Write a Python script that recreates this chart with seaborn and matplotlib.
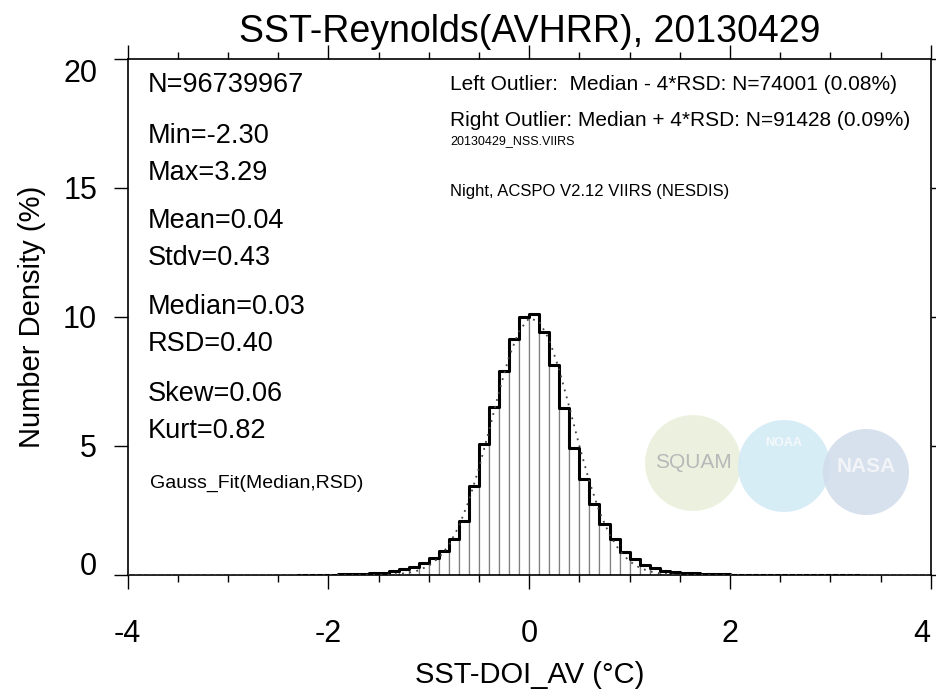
import numpy as np
import pandas as pd
import matplotlib
matplotlib.use("Agg")
import matplotlib.pyplot as plt
from matplotlib.patches import Circle
from matplotlib.ticker import MultipleLocator
import seaborn as sns

# ---------------- data ----------------
title = "SST-Reynolds(AVHRR), 20130429"
x_label = "SST-DOI_AV (°C)"
y_label = "Number Density (%)"

bin_start, bin_width = -2.3, 0.1
# number density (%) per 0.1 bin, from -2.3 to 3.3
density = [
    0.003, 0.005, 0.008, 0.012, 0.02, 0.03, 0.045, 0.065,
    0.09, 0.14, 0.22, 0.32, 0.45, 0.67, 0.94, 1.40, 2.10, 3.46, 5.07, 6.52, 7.91, 9.15, 9.99,
    10.10, 9.43, 8.14, 6.48, 4.93, 3.72, 2.74, 1.97, 1.38, 0.90, 0.61, 0.39, 0.26, 0.17, 0.12, 0.08,
    0.06, 0.045, 0.033, 0.024, 0.018, 0.013, 0.01, 0.008, 0.006, 0.005, 0.004, 0.003, 0.002, 0.002,
    0.001, 0.001, 0.001,
]

# Gauss fit (Median, RSD) curve, read at 0.1 steps
fit_x = [-4.0, -2.0, -1.9, -1.8, -1.7, -1.6, -1.5, -1.4, -1.3, -1.2, -1.1, -1.0, -0.9, -0.8, -0.7,
         -0.6, -0.5, -0.4, -0.3, -0.2, -0.1, 0.0, 0.1, 0.2, 0.3, 0.4, 0.5, 0.6, 0.7, 0.8, 0.9,
         1.0, 1.1, 1.2, 1.3, 1.4, 1.5, 1.6, 1.7, 1.8, 1.9, 2.0, 4.0]
fit_y = [0.0, 0.0, 0.0, 0.0, 0.001, 0.003, 0.007, 0.017, 0.04, 0.088, 0.18, 0.36, 0.67, 1.16, 1.89,
         2.89, 4.15, 5.60, 7.10, 8.46, 9.46, 9.95, 9.82, 9.11, 7.94, 6.50, 5.00, 3.61, 2.45, 1.57, 0.94,
         0.53, 0.28, 0.14, 0.065, 0.028, 0.012, 0.005, 0.002, 0.001, 0.0, 0.0, 0.0]

stats_lines = [("N=96739967", 85), ("Min=-2.30", 136), ("Max=3.29", 173),
               ("Mean=0.04", 221), ("Stdv=0.43", 258), ("Median=0.03", 307),
               ("RSD=0.40", 344), ("Skew=0.06", 394), ("Kurt=0.82", 431)]
fit_note = "Gauss_Fit(Median,RSD)"
info_lines = ["Left Outlier:  Median - 4*RSD: N=74001 (0.08%)",
              "Right Outlier: Median + 4*RSD: N=91428 (0.09%)",
              "20130429_NSS.VIIRS",
              "Night, ACSPO V2.12 VIIRS (NESDIS)"]

x_ticks = [-4, -2, 0, 2, 4]
y_ticks = [0, 5, 10, 15, 20]

# ---------------- figure ----------------
sns.set_style("white")
plt.rcParams["font.family"] = ["Liberation Sans", "DejaVu Sans"]
plt.rcParams["axes.unicode_minus"] = False
for k in ["text.color", "axes.labelcolor", "xtick.color", "ytick.color"]:
    plt.rcParams[k] = "black"

W, H = 937, 692
fig = plt.figure(figsize=(W / 100, H / 100), dpi=100)
L, R, B, T = 127.7, 930.7, 575.0, 58.7
ax = fig.add_axes([L / W, 1 - B / H, (R - L) / W, (B - T) / H])

edges = [round(bin_start + bin_width * i, 2) for i in range(len(density) + 1)]
centers = [round(e + bin_width / 2, 3) for e in edges[:-1]]
df = pd.DataFrame({"x": centers, "w": density})

# faint logos (decoration)
def px_circle(cx, cy, r, fc, alpha):
    c = Circle((cx / 100, (H - cy) / 100), r / 100, transform=fig.dpi_scale_trans,
               facecolor=fc, edgecolor="none", alpha=alpha, zorder=0)
    ax.add_patch(c)

px_circle(693, 463, 48, "#e8eed8", 0.8)
px_circle(784, 466, 46, "#d3ebf6", 0.9)
px_circle(866, 472, 43, "#d3ddec", 0.9)
fig.text(693 / W, 1 - 463 / H, "SQUAM", fontsize=15, color="#b8b8b8", ha="center", va="center")
fig.text(784 / W, 1 - 443 / H, "NOAA", fontsize=9, color="#f4f8fb", ha="center", va="center", weight="bold")
fig.text(866 / W, 1 - 466 / H, "NASA", fontsize=15, color="#f2f4f8", ha="center", va="center", weight="bold")

# bars
sns.histplot(data=df, x="x", weights="w", bins=edges, stat="count", element="bars",
             fill=True, color="white", edgecolor="#808080", linewidth=0.9, alpha=1, ax=ax, zorder=2)
# thick step outline
sns.histplot(data=df, x="x", weights="w", bins=edges, stat="count", element="step",
             fill=False, color="black", linewidth=2.2, ax=ax, zorder=3)
# gauss fit
sns.lineplot(x=fit_x, y=fit_y, color="#444444", linestyle=(0, (1, 3)), linewidth=1.3,
             ax=ax, zorder=4)

ax.set_xlim(-4, 4)
ax.set_ylim(0, 20)
ax.set_xticks(x_ticks)
ax.set_yticks(y_ticks)
ax.xaxis.set_minor_locator(MultipleLocator(0.5))
ax.tick_params(axis="both", which="major", direction="out", length=10, width=1.0,
               labelsize=22, top=True, right=True, bottom=True, left=True)
ax.tick_params(axis="x", which="major", pad=22)
ax.tick_params(axis="y", which="major", pad=12)
ax.tick_params(axis="x", which="minor", direction="out", length=5, width=1.0,
               top=True, bottom=True)
for s in ax.spines.values():
    s.set_linewidth(1.2)
    s.set_color("black")
ax.set_xlabel(x_label, fontsize=21, labelpad=8)
ax.set_ylabel(y_label, fontsize=21, labelpad=12)
ax.set_title(title, fontsize=27, pad=12)

# end labels nudged inside like the reference
ylabels = ax.get_yticklabels()
ylabels[0].set_va("baseline")
ylabels[-1].set_va("top")
xlabels = ax.get_xticklabels()
xlabels[-1].set_ha("right")

def ay(py):
    return (B - py) / (B - T)

def axx(px):
    return (px - L) / (R - L)

for txt, py in stats_lines:
    ax.text(axx(148), ay(py), txt, fontsize=19.5, ha="left", va="center", transform=ax.transAxes)
ax.text(axx(150), ay(483), fit_note, fontsize=14, ha="left", va="center", transform=ax.transAxes)

ax.text(axx(450), ay(85), info_lines[0], fontsize=15, ha="left", va="center", transform=ax.transAxes)
ax.text(axx(450), ay(121), info_lines[1], fontsize=15, ha="left", va="center", transform=ax.transAxes)
ax.text(axx(450), ay(141), info_lines[2], fontsize=9, ha="left", va="center", transform=ax.transAxes)
ax.text(axx(450), ay(192), info_lines[3], fontsize=12, ha="left", va="center", transform=ax.transAxes)

fig.savefig("out.png", dpi=100)
